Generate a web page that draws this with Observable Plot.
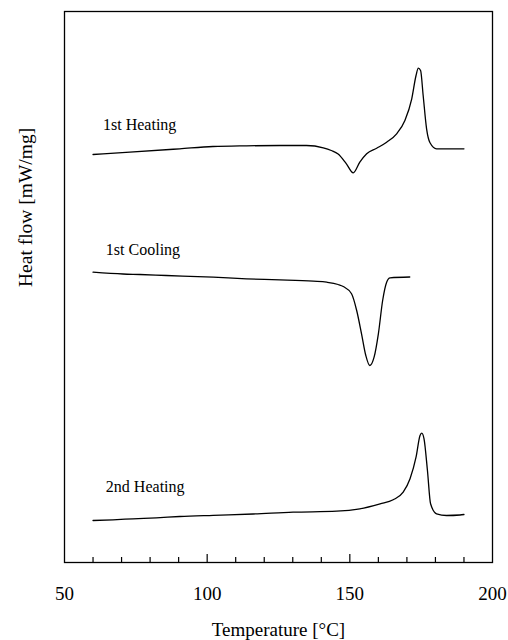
<!DOCTYPE html>
<html>
<head>
<meta charset="utf-8">
<script src="https://cdn.jsdelivr.net/npm/d3@7"></script>
<script src="https://cdn.jsdelivr.net/npm/@observablehq/plot@0.6"></script>
<style>
  html, body { margin: 0; padding: 0; background: #fff; }
  svg { display: block; }
</style>
</head>
<body>
<div id="chart"></div>
<script>
// 1st heating (temperature °C, relative heat flow, arbitrary offset units)
const heating1T  = [60, 72.9, 90.4, 102, 113.8, 125.5, 134.8, 140.7, 143.5, 145.9, 148.8, 151.2, 153.5, 155.9, 159.4, 162.9, 166.4, 169.3, 171.7, 173.2, 174.0, 174.8, 175.7, 176.9, 178.1, 180.4, 190];
const heating1HF = [40.8, 41.03, 41.37, 41.6, 41.67, 41.7, 41.7, 41.47, 41.2, 40.85, 39.87, 38.97, 40.03, 40.87, 41.43, 42.03, 42.87, 44.2, 46.37, 48.7, 49.43, 49.2, 46.7, 43.37, 41.97, 41.37, 41.37];

// 1st cooling
const coolingT  = [60, 70.5, 76.4, 85.7, 102.1, 113.8, 125.5, 137.2, 141.9, 145.9, 147.7, 150.6, 152.4, 154.1, 155.6, 157.0, 158.5, 160.0, 161.5, 162.9, 164.1, 171];
const coolingHF = [29.03, 28.85, 28.8, 28.7, 28.53, 28.37, 28.27, 28.13, 28.03, 27.8, 27.6, 26.87, 25.2, 22.87, 20.7, 19.7, 20.53, 22.87, 26.2, 28.03, 28.47, 28.55];

// 2nd heating
const heating2T  = [60, 67, 74, 82.2, 90.4, 102.1, 116.1, 130.1, 145.4, 153.5, 160.6, 165.2, 168.7, 171.1, 173.2, 174.6, 175.2, 176.0, 177.2, 178.3, 180.4, 183.9, 188.6, 190];
const heating2HF = [4.2, 4.27, 4.37, 4.47, 4.6, 4.72, 4.85, 5.03, 5.13, 5.37, 5.87, 6.27, 7.03, 8.37, 10.53, 12.7, 12.93, 12.37, 9.2, 5.87, 4.87, 4.7, 4.75, 4.8];

// curve labels
const labelText = ["1st Heating", "1st Cooling", "2nd Heating"];
const labelT    = [63.5, 64.5, 64.5];
const labelHF   = [43.8, 31.3, 7.6];

// axis ticks
const xLabelTicks = [50, 100, 150, 200];
const xMinorTicks = [60, 70, 80, 90, 110, 120, 130, 140, 160, 170, 180, 190];
const xMajorTicks = [100, 150];

const toRows = (ts, hs, name) => ts.map((t, i) => ({t, hf: hs[i], run: name}));
const rows = [
  ...toRows(heating1T, heating1HF, "1st Heating"),
  ...toRows(coolingT, coolingHF, "1st Cooling"),
  ...toRows(heating2T, heating2HF, "2nd Heating")
];
const labels = labelText.map((s, i) => ({s, t: labelT[i], hf: labelHF[i]}));

const serif = "'Liberation Serif', 'Times New Roman', Times, serif";

const chart = Plot.plot({
  width: 508,
  height: 640,
  marginLeft: 64,
  marginRight: 16,
  marginTop: 11,
  marginBottom: 78,
  style: {fontFamily: serif, fontSize: "19px", color: "#000", background: "#fff"},
  x: {domain: [50, 200]},
  y: {domain: [0, 55.1], axis: null},
  marks: [
    Plot.frame({stroke: "#000", strokeWidth: 1.3}),
    Plot.ruleX(xMinorTicks, {x: d => d, y1: 0, y2: 0.5, stroke: "#000", strokeWidth: 1.2}),
    Plot.ruleX(xMajorTicks, {x: d => d, y1: 0, y2: 0.8, stroke: "#000", strokeWidth: 1.2}),
    Plot.axisX(xLabelTicks, {anchor: "bottom", tickSize: 0, tickPadding: 24, fontSize: 19, label: null}),
    Plot.text(["Temperature [°C]"], {frameAnchor: "bottom", dy: 67, lineAnchor: "middle", fontSize: 19, fill: "#000"}),
    Plot.text(["Heat flow [mW/mg]"], {frameAnchor: "left", dx: -39, rotate: -90, lineAnchor: "middle", fontSize: 19.5, fill: "#000"}),
    Plot.line(rows, {x: "t", y: "hf", z: "run", stroke: "#000", strokeWidth: 1.3, curve: "monotone-x"}),
    Plot.text(labels, {x: "t", y: "hf", text: "s", textAnchor: "start", lineAnchor: "middle", fontSize: 16, fill: "#000"})
  ]
});
document.getElementById("chart").appendChild(chart);
</script>
</body>
</html>
